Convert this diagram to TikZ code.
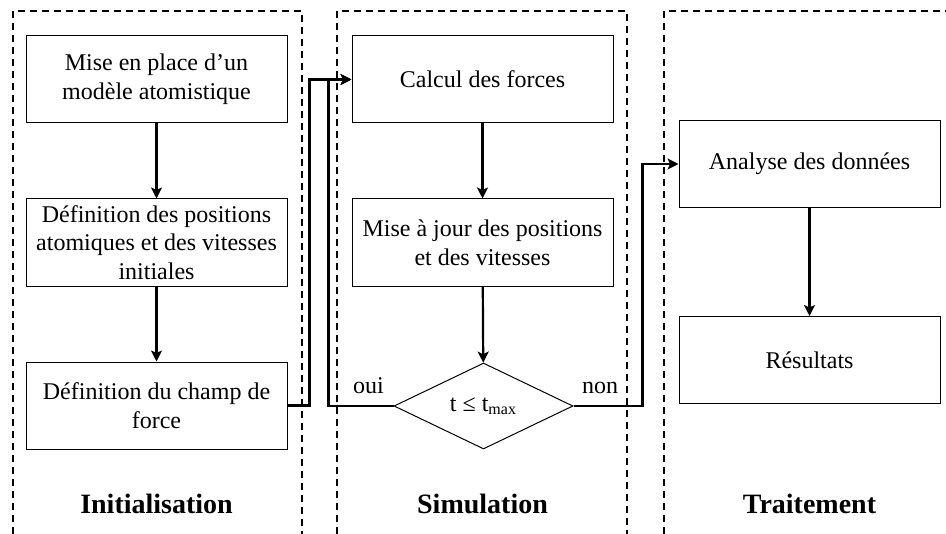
\documentclass[tikz,border=0pt]{standalone}
\usepackage{fontspec}
\setmainfont{Liberation Serif}
\usepackage{tikz}
\usetikzlibrary{shapes.geometric, arrows.meta, positioning}
\tikzstyle{stepbox} = [rectangle, draw=black, line width=0.5pt, minimum width=130.5pt, minimum height=43.5pt, inner sep=2pt, align=center, font=\fontsize{12}{14.3}\selectfont]
\tikzstyle{flow} = [-{Stealth[length=5.5pt, width=5.5pt, inset=1.3pt]}, line width=1.1pt, draw=black]

\begin{document}
\begin{tikzpicture}[
    x=0.5pt, y=-0.5pt,
    testnode/.style={diamond, draw=black, line width=0.5pt, minimum width=89.5pt, minimum height=43pt, inner sep=0pt, font=\fontsize{12}{14.3}\selectfont},
    lane/.style={dash pattern=on 3.5pt off 2.5pt, line width=1pt},
    lanetitle/.style={anchor=base, font=\fontsize{14}{16}\selectfont\bfseries},
    lbl/.style={anchor=base, font=\fontsize{12}{14.3}\selectfont}
  ]
    \useasboundingbox (0,0) rectangle (946,534);

    % Dashed lanes (open at the bottom)
    \draw[lane] (13,534) -- (13,11) -- (302,11) -- (302,534);
    \draw[lane] (337,534) -- (337,11) -- (627,11) -- (627,534);
    \draw[lane] (664,534) -- (664,11) -- (946,11);

    % Column 1: Initialisation
    \node[stepbox] (init1) at (156.5,79.5) {Mise en place d’un\\modèle atomistique};
    \node[stepbox] (init2) at (156.5,242.5) {Définition des positions\\atomiques et des vitesses\\initiales};
    \node[stepbox] (init3) at (156.5,405.5) {Définition du champ de\\force};

    \draw[flow] (init1) -- (init2);
    \draw[flow] (init2) -- (init3);

    % Column 2: Simulation
    \node[stepbox] (sim1) at (482.5,79.5) {Calcul des forces};
    \node[stepbox] (sim2) at (482.5,242.5) {Mise à jour des positions\\et des vitesses};
    \node[testnode] (test) at (483.5,406) {t ≤ t\textsubscript{max}};

    \draw[flow] (sim1) -- (sim2);
    \draw[flow] (sim2) -- (test);

    % Column 3: Traitement
    \node[stepbox] (trait1) at (809.5,164) {Analyse des données};
    \node[stepbox] (trait2) at (809.5,360) {Résultats};

    \draw[flow] (trait1) -- (trait2);

    % Links between columns
    \draw[flow] (init3.east) -- ++(22,0) |- (sim1.west);
    \draw[flow] (test.west) -- ++(-65,0) |- (sim1.west);
    \draw[flow] (test.east) -- ++(69,0) |- (trait1.west);

    \node[lbl] (oui) at (368.5,393) {oui};
    \node[lbl] (non) at (600,393) {non};

    % Lane titles
    \node[lanetitle] (tinit) at (156.5,513) {Initialisation};
    \node[lanetitle] (tsim) at (482.5,513) {Simulation};
    \node[lanetitle] (ttrait) at (809.5,513) {Traitement};
  \end{tikzpicture}
\end{document}
